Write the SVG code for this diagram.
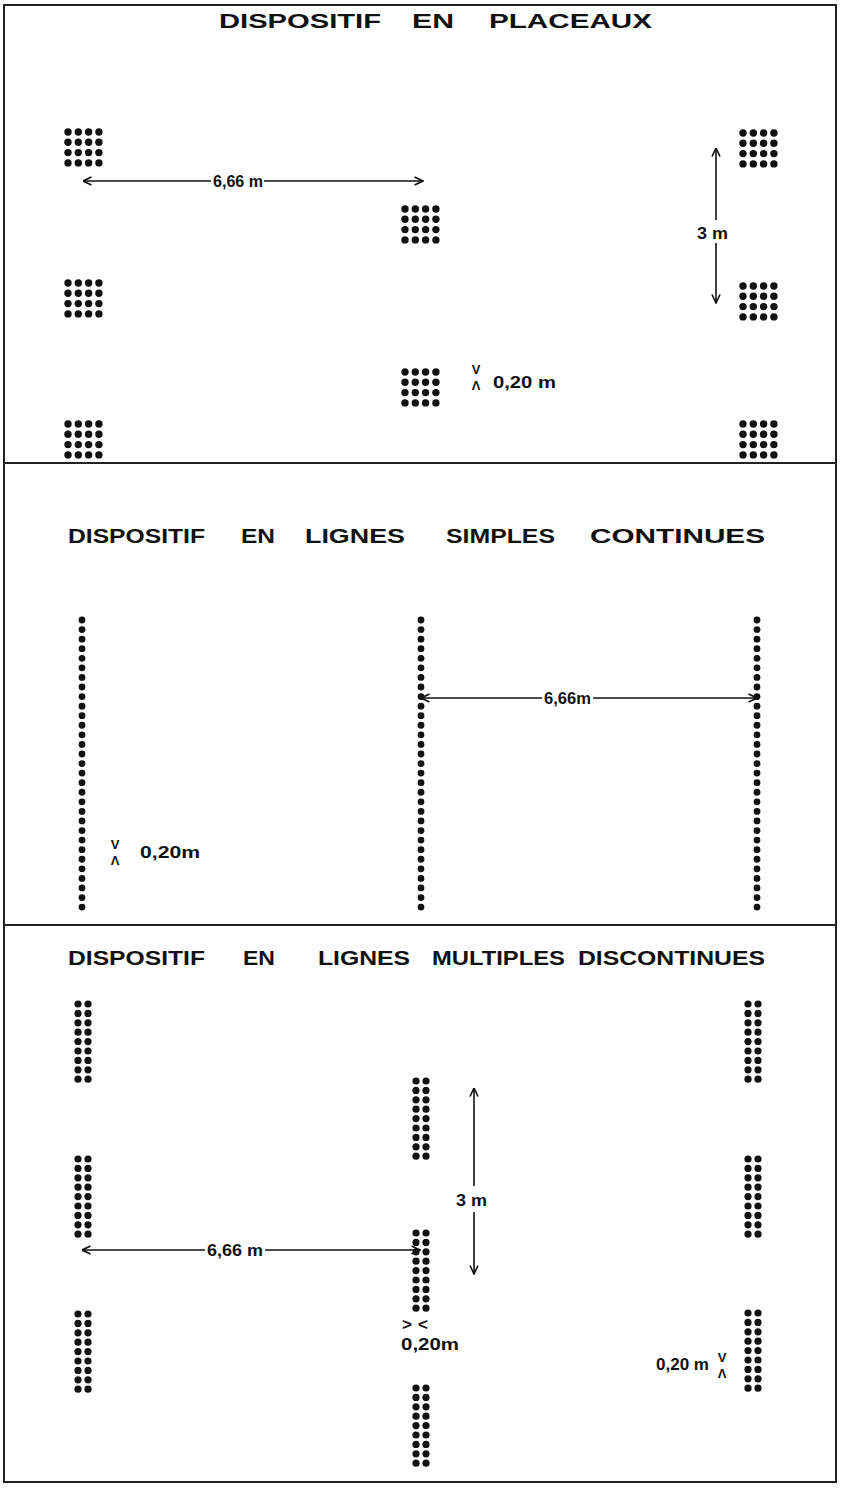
<svg xmlns="http://www.w3.org/2000/svg" xmlns:xlink="http://www.w3.org/1999/xlink" width="843" height="1490" viewBox="0 0 843 1490">
<style>
.frame{fill:none;stroke:#222;stroke-width:2}
.div{stroke:#222;stroke-width:2}
.dot{fill:#111}
.title{font-family:"Liberation Sans","DejaVu Sans",sans-serif;font-weight:bold;font-size:21px;fill:#111}
.lab{font-family:"Liberation Sans","DejaVu Sans",sans-serif;font-weight:bold;font-size:17px;fill:#111}
.mk{font-family:"Liberation Sans","DejaVu Sans",sans-serif;font-weight:bold;font-size:13px;fill:#111;text-anchor:middle}
.arr{stroke:#111;stroke-width:1.6;fill:none;marker-end:url(#ah)}
</style>
<defs>
<marker id="ah" viewBox="0 0 10 10" refX="9.5" refY="5" markerWidth="10" markerHeight="10" markerUnits="userSpaceOnUse" orient="auto">
<path d="M1,1 L9.5,5 L1,9" fill="none" stroke="#111" stroke-width="1.6"/>
</marker>
<g id="plac" class="dot">
<circle cx="0" cy="0" r="3.7"/><circle cx="10.3" cy="0" r="3.7"/><circle cx="20.6" cy="0" r="3.7"/><circle cx="30.9" cy="0" r="3.7"/>
<circle cx="0" cy="10.3" r="3.7"/><circle cx="10.3" cy="10.3" r="3.7"/><circle cx="20.6" cy="10.3" r="3.7"/><circle cx="30.9" cy="10.3" r="3.7"/>
<circle cx="0" cy="20.6" r="3.7"/><circle cx="10.3" cy="20.6" r="3.7"/><circle cx="20.6" cy="20.6" r="3.7"/><circle cx="30.9" cy="20.6" r="3.7"/>
<circle cx="0" cy="30.9" r="3.7"/><circle cx="10.3" cy="30.9" r="3.7"/><circle cx="20.6" cy="30.9" r="3.7"/><circle cx="30.9" cy="30.9" r="3.7"/>
</g>
<g id="line1" class="dot">
<circle cx="0" cy="0" r="3.4"/><circle cx="0" cy="9.57" r="3.4"/><circle cx="0" cy="19.14" r="3.4"/><circle cx="0" cy="28.71" r="3.4"/><circle cx="0" cy="38.28" r="3.4"/><circle cx="0" cy="47.85" r="3.4"/><circle cx="0" cy="57.42" r="3.4"/><circle cx="0" cy="66.99" r="3.4"/><circle cx="0" cy="76.56" r="3.4"/><circle cx="0" cy="86.13" r="3.4"/><circle cx="0" cy="95.7" r="3.4"/><circle cx="0" cy="105.27" r="3.4"/><circle cx="0" cy="114.84" r="3.4"/><circle cx="0" cy="124.41" r="3.4"/><circle cx="0" cy="133.98" r="3.4"/><circle cx="0" cy="143.55" r="3.4"/><circle cx="0" cy="153.12" r="3.4"/><circle cx="0" cy="162.69" r="3.4"/><circle cx="0" cy="172.26" r="3.4"/><circle cx="0" cy="181.83" r="3.4"/><circle cx="0" cy="191.4" r="3.4"/><circle cx="0" cy="200.97" r="3.4"/><circle cx="0" cy="210.54" r="3.4"/><circle cx="0" cy="220.11" r="3.4"/><circle cx="0" cy="229.68" r="3.4"/><circle cx="0" cy="239.25" r="3.4"/><circle cx="0" cy="248.82" r="3.4"/><circle cx="0" cy="258.39" r="3.4"/><circle cx="0" cy="267.96" r="3.4"/><circle cx="0" cy="277.53" r="3.4"/><circle cx="0" cy="287.1" r="3.4"/>
</g>
<g id="col2" class="dot">
<circle cx="0" cy="0" r="3.6"/><circle cx="10" cy="0" r="3.6"/>
<circle cx="0" cy="9.4" r="3.6"/><circle cx="10" cy="9.4" r="3.6"/>
<circle cx="0" cy="18.8" r="3.6"/><circle cx="10" cy="18.8" r="3.6"/>
<circle cx="0" cy="28.2" r="3.6"/><circle cx="10" cy="28.2" r="3.6"/>
<circle cx="0" cy="37.6" r="3.6"/><circle cx="10" cy="37.6" r="3.6"/>
<circle cx="0" cy="47" r="3.6"/><circle cx="10" cy="47" r="3.6"/>
<circle cx="0" cy="56.4" r="3.6"/><circle cx="10" cy="56.4" r="3.6"/>
<circle cx="0" cy="65.8" r="3.6"/><circle cx="10" cy="65.8" r="3.6"/>
<circle cx="0" cy="75.2" r="3.6"/><circle cx="10" cy="75.2" r="3.6"/>
</g>
</defs>
<rect width="843" height="1490" fill="#fff"/>
<g id="frame">
<rect class="frame" x="4" y="5" width="832" height="1477"/>
<line class="div" x1="4" y1="463" x2="836" y2="463"/>
<line class="div" x1="4" y1="925" x2="836" y2="925"/>
</g>
<g id="titles">
<text class="title" x="219" y="28" textLength="162" lengthAdjust="spacingAndGlyphs">DISPOSITIF</text>
<text class="title" x="412" y="28" textLength="42" lengthAdjust="spacingAndGlyphs">EN</text>
<text class="title" x="489" y="28" textLength="163" lengthAdjust="spacingAndGlyphs">PLACEAUX</text>
<text class="title" x="68" y="543" textLength="137" lengthAdjust="spacingAndGlyphs">DISPOSITIF</text>
<text class="title" x="241" y="543" textLength="34" lengthAdjust="spacingAndGlyphs">EN</text>
<text class="title" x="305" y="543" textLength="100" lengthAdjust="spacingAndGlyphs">LIGNES</text>
<text class="title" x="446" y="543" textLength="109" lengthAdjust="spacingAndGlyphs">SIMPLES</text>
<text class="title" x="590" y="543" textLength="175" lengthAdjust="spacingAndGlyphs">CONTINUES</text>
<text class="title" x="68" y="965" textLength="137" lengthAdjust="spacingAndGlyphs">DISPOSITIF</text>
<text class="title" x="243" y="965" textLength="32" lengthAdjust="spacingAndGlyphs">EN</text>
<text class="title" x="318" y="965" textLength="92" lengthAdjust="spacingAndGlyphs">LIGNES</text>
<text class="title" x="432" y="965" textLength="133" lengthAdjust="spacingAndGlyphs">MULTIPLES</text>
<text class="title" x="578" y="965" textLength="187" lengthAdjust="spacingAndGlyphs">DISCONTINUES</text>
</g>
<g id="placeau-L1"><use href="#plac" x="68" y="132"/></g>
<g id="placeau-L2"><use href="#plac" x="68" y="283"/></g>
<g id="placeau-L3"><use href="#plac" x="68" y="424"/></g>
<g id="placeau-M1"><use href="#plac" x="405" y="209"/></g>
<g id="placeau-M2"><use href="#plac" x="405" y="372"/></g>
<g id="placeau-R1"><use href="#plac" x="743" y="133"/></g>
<g id="placeau-R2"><use href="#plac" x="743" y="286"/></g>
<g id="placeau-R3"><use href="#plac" x="743" y="424"/></g>
<g id="ligne-1"><use href="#line1" x="82" y="620"/></g>
<g id="ligne-2"><use href="#line1" x="421" y="620"/></g>
<g id="ligne-3"><use href="#line1" x="757" y="620"/></g>
<g id="multi-L1"><use href="#col2" x="78" y="1004"/></g>
<g id="multi-L2"><use href="#col2" x="78" y="1159"/></g>
<g id="multi-L3"><use href="#col2" x="78" y="1314"/></g>
<g id="multi-M1"><use href="#col2" x="416" y="1081"/></g>
<g id="multi-M2"><use href="#col2" x="416" y="1233"/></g>
<g id="multi-M3"><use href="#col2" x="416" y="1388"/></g>
<g id="multi-R1"><use href="#col2" x="748" y="1004"/></g>
<g id="multi-R2"><use href="#col2" x="748" y="1159"/></g>
<g id="multi-R3"><use href="#col2" x="748" y="1313"/></g>
<g id="connectors">
<line class="arr" x1="211" y1="181" x2="83" y2="181"/>
<line class="arr" x1="264" y1="181" x2="423" y2="181"/>
<line class="arr" x1="716" y1="220" x2="716" y2="148"/>
<line class="arr" x1="716" y1="243" x2="716" y2="303"/>
<line class="arr" x1="542" y1="698" x2="421" y2="698"/>
<line class="arr" x1="593" y1="698" x2="757" y2="698"/>
<line class="arr" x1="205" y1="1250" x2="82" y2="1250"/>
<line class="arr" x1="265" y1="1250" x2="420" y2="1250"/>
<line class="arr" x1="474" y1="1186" x2="474" y2="1088"/>
<line class="arr" x1="474" y1="1212" x2="474" y2="1274"/>
</g>
<g id="labels">
<text class="lab" x="213" y="187" textLength="50" lengthAdjust="spacingAndGlyphs">6,66 m</text>
<text class="lab" x="697" y="239" textLength="31" lengthAdjust="spacingAndGlyphs">3 m</text>
<text class="mk" x="476" y="374">V</text>
<text class="mk" x="476" y="390">Λ</text>
<text class="lab" x="493" y="388" textLength="63" lengthAdjust="spacingAndGlyphs">0,20 m</text>
<text class="lab" x="544" y="704" textLength="47" lengthAdjust="spacingAndGlyphs">6,66m</text>
<text class="mk" x="115" y="849">V</text>
<text class="mk" x="115" y="865">Λ</text>
<text class="lab" x="140" y="858" textLength="60" lengthAdjust="spacingAndGlyphs">0,20m</text>
<text class="lab" x="207" y="1256" textLength="56" lengthAdjust="spacingAndGlyphs">6,66 m</text>
<text class="lab" x="456" y="1206" textLength="31" lengthAdjust="spacingAndGlyphs">3 m</text>
<text class="lab" x="402" y="1330" textLength="26" lengthAdjust="spacing">&gt; &lt;</text>
<text class="lab" x="401" y="1350" textLength="58" lengthAdjust="spacingAndGlyphs">0,20m</text>
<text class="lab" x="656" y="1370" textLength="53" lengthAdjust="spacingAndGlyphs">0,20 m</text>
<text class="mk" x="722" y="1362">V</text>
<text class="mk" x="722" y="1378">Λ</text>
</g>
</svg>
